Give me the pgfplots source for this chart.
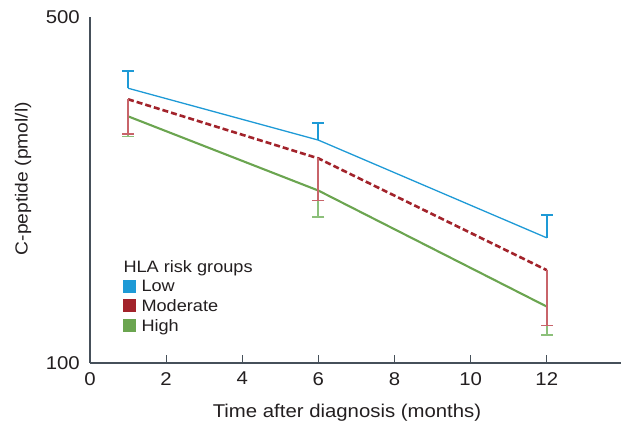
\documentclass[border=0pt]{standalone}
\usepackage{fontspec}
\setmainfont{Liberation Sans}[FakeStretch=1.1]
\usepackage{pgfplots}
\pgfplotsset{compat=1.18}
\definecolor{lowc}{HTML}{1E9AD6}
\definecolor{modc}{HTML}{A2232B}
\definecolor{modlt}{HTML}{C8646A}
\definecolor{highc}{HTML}{6BA550}
\definecolor{highlt}{HTML}{8CC07A}
\definecolor{axc}{HTML}{46505A}
\definecolor{txt}{HTML}{231F20}
\begin{document}
\begin{tikzpicture}
\useasboundingbox (0,0) rectangle (621bp,423bp);
\begin{axis}[
  at={(90bp,60bp)}, anchor=south west,
  scale only axis, width=531bp, height=346bp,
  xmin=0, xmax=13.95, ymin=100, ymax=500, ymode=log,
  axis lines=left, axis line style={axc, line width=1.2bp, -},
  xtick={0,2,...,12}, ytick={100,500}, yticklabels={100,500},
  tick align=inside, major tick length=8bp,
  xtick style={axc, line width=1bp}, ytick style={draw=none},
  /pgf/number format/assume math mode=true,
  tick label style={font=\fontsize{18.5bp}{22bp}\selectfont, text=txt},
  xticklabel style={inner sep=0pt, yshift=-9bp},
  yticklabel style={inner sep=0pt, xshift=-10bp},
  xlabel={Time after diagnosis (months)},
  ylabel={C-peptide (pmol/l)},
  xlabel style={font=\fontsize{18.5bp}{22bp}\selectfont, text=txt, at={(axis description cs:0.484,-0.159)}, anchor=base},
  ylabel style={font=\fontsize{17.5bp}{21bp}\selectfont, text=txt, at={(axis description cs:-0.126,0.533)}, anchor=center},
  legend style={at={(axis description cs:0.062,0.298)}, anchor=north west, draw=none, fill=none,
    inner sep=0pt, font=\fontsize{16.5bp}{20bp}\selectfont, text=txt, column sep=6bp, row sep=0bp,
    nodes={inner sep=0pt, text height=12bp, text depth=7.5bp}},
  legend cell align=left,
  legend style={cells={anchor=base west}},
]
\addplot[forget plot, highc, line width=2.1bp,
  error bars/.cd, y dir=minus, y explicit, error mark=|,
  error bar style={highlt, line width=1.8bp},
  error mark options={highlt, line width=1.6bp, mark size=6bp}]
  coordinates {(1,315) -= (0,28) (6,223) -= (0,26) (12,130) -= (0,16)};
\addplot[forget plot, modc, line width=2.6bp, dash pattern=on 6bp off 3bp,
  error bars/.cd, y dir=minus, y explicit, error mark=|,
  error bar style={modlt, line width=1.8bp, solid},
  error mark options={modlt, line width=1.6bp, mark size=6bp, solid}]
  coordinates {(1,341) -= (0,51) (6,259) -= (0,46) (12,154) -= (0,35)};
\addplot[forget plot, lowc, line width=1.3bp,
  error bars/.cd, y dir=plus, y explicit, error mark=|,
  error bar style={lowc, line width=1.8bp},
  error mark options={lowc, line width=1.6bp, mark size=6bp}]
  coordinates {(1,359) += (0,30) (6,282) += (0,23) (12,179) += (0,20)};
\addlegendimage{empty legend}
\addlegendentry{\hspace*{-18bp}HLA risk groups}
\addlegendimage{legend image code/.code={\fill[lowc] (0bp,0bp) rectangle (12bp,12bp);}}
\addlegendentry{Low}
\addlegendimage{legend image code/.code={\fill[modc] (0bp,0bp) rectangle (12bp,12bp);}}
\addlegendentry{Moderate}
\addlegendimage{legend image code/.code={\fill[highc] (0bp,0bp) rectangle (12bp,12bp);}}
\addlegendentry{High}
\end{axis}
\end{tikzpicture}
\end{document}
